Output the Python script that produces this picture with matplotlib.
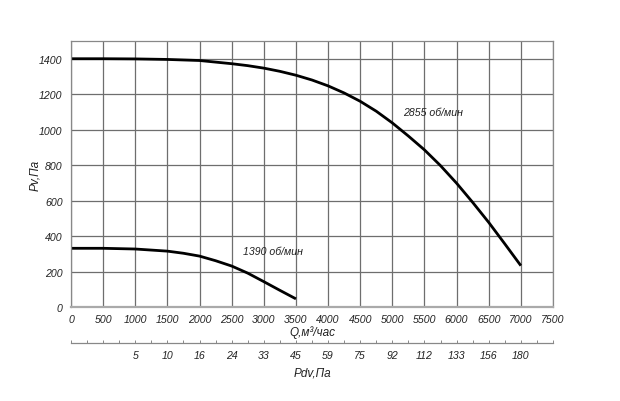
import matplotlib
matplotlib.use("Agg")
import matplotlib.pyplot as plt
import numpy as np

plt.rcParams['font.family'] = ['Liberation Sans', 'DejaVu Sans']

# Data
q_2855 = [0, 500, 1000, 1500, 2000, 2500, 2750, 3000, 3250, 3500, 3750, 4000, 4250,
          4500, 4750, 5000, 5250, 5500, 5750, 6000, 6250, 6500, 6750, 7000]
p_2855 = [1400, 1400, 1399, 1396, 1390, 1372, 1361, 1347, 1329, 1307, 1280, 1247, 1207,
          1160, 1104, 1038, 964, 886, 797, 698, 590, 477, 356, 233]

q_1390 = [0, 500, 1000, 1500, 1750, 2000, 2250, 2500, 2750, 3000, 3250, 3500]
p_1390 = [331, 331, 327, 315, 303, 287, 261, 231, 191, 143, 94, 46]

pdv_q = [1000, 1500, 2000, 2500, 3000, 3500, 4000, 4500, 5000, 5500, 6000, 6500, 7000]
pdv_labels = ['5', '10', '16', '24', '33', '45', '59', '75', '92', '112', '133', '156', '180']

txt = '#222222'
grid_c = '#6e6e6e'
fs = 7.6

fig = plt.figure(figsize=(6.2, 4.02), dpi=100)
W, H = 620, 402
ax = fig.add_axes([71 / W, (H - 308) / H, 482 / W, 266 / H])

ax.plot(q_2855, p_2855, color='black', lw=2.0, solid_capstyle='butt', solid_joinstyle='round')
ax.plot(q_1390, p_1390, color='black', lw=2.0, solid_capstyle='butt', solid_joinstyle='round')

ax.set_xlim(0, 7500)
ax.set_ylim(0, 1500)
ax.set_xticks(np.arange(0, 7501, 500))
ax.set_yticks(np.arange(0, 1401, 200))
ax.grid(True, color=grid_c, lw=0.9)
ax.tick_params(length=0, labelsize=fs, labelcolor=txt)
ax.tick_params(axis='x', pad=5)
ax.tick_params(axis='y', pad=6)
for lab in ax.get_xticklabels() + ax.get_yticklabels():
    lab.set_fontstyle('italic')
for s in ax.spines.values():
    s.set_color('#888888')
    s.set_linewidth(0.9)
ax.spines['bottom'].set_linewidth(1.6)
ax.spines['bottom'].set_color('#aaaaaa')

ax.set_xlabel('Q,м³/час', fontsize=8.5, color=txt, fontstyle='italic')
ax.set_ylabel('Pv,Па', fontsize=8.5, color=txt, fontstyle='italic')
ax.xaxis.set_label_coords(0.5, (308 - 333) / 266, transform=ax.transAxes)
ax.yaxis.set_label_coords((35 - 71) / 482, 0.5, transform=ax.transAxes)
ax.xaxis.label.set_va('center')
ax.yaxis.label.set_va('center')

ax.text(5170, 1101, '2855 об/мин', fontsize=fs, color=txt, va='center', fontstyle='italic')
ax.text(2680, 314, '1390 об/мин', fontsize=fs, color=txt, va='center', fontstyle='italic')

# dynamic pressure scale below the main axis
ax2 = fig.add_axes([71 / W, (H - 344) / H, 482 / W, 0.0001])
ax2.set_xlim(0, 7500)
ax2.set_yticks([])
for k in ['top', 'left', 'right']:
    ax2.spines[k].set_visible(False)
ax2.spines['bottom'].set_color('#888888')
ax2.spines['bottom'].set_linewidth(0.9)
ticks = np.arange(0, 7501, 250)
labels = [pdv_labels[pdv_q.index(t)] if t in pdv_q else '' for t in ticks]
ax2.set_xticks(ticks)
ax2.set_xticklabels(labels, fontstyle='italic')
ax2.tick_params(axis='x', direction='in', length=2.5, width=0.7, color='#888888',
                labelsize=fs, labelcolor=txt, pad=5)
fig.text(312 / W, 1 - 374 / H, 'Pdv,Па', fontsize=8.5, color=txt, fontstyle='italic',
         ha='center', va='center')

fig.savefig('out.png', dpi=100)
